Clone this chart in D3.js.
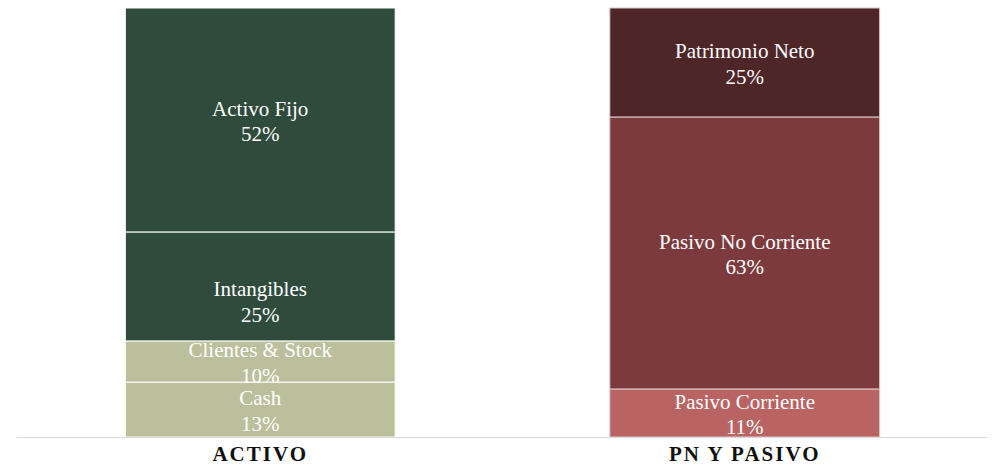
<!DOCTYPE html>
<html>
<head>
<meta charset="utf-8">
<script src="https://cdn.jsdelivr.net/npm/d3@7"></script>
<style>
  html, body { margin: 0; padding: 0; background: #fff; }
  svg { display: block; }
</style>
</head>
<body>
<svg id="chart" width="1007" height="465"></svg>
<script>
// ---- data ----
const categories = ["ACTIVO", "PN Y PASIVO"];
const activoLabels = ["Cash", "Clientes & Stock", "Intangibles", "Activo Fijo"];
const activoValues = [12.8, 9.6, 25.4, 52.2];
const pasivoLabels = ["Pasivo Corriente", "Pasivo No Corriente", "Patrimonio Neto"];
const pasivoValues = [11.2, 63.4, 25.4];
const activoColors = ["#BBBF9B", "#BBBF9B", "#2F4B3C", "#2F4B3C"];
const pasivoColors = ["#B96462", "#7D3A3C", "#4F2627"];

// ---- layout ----
const W = 1007, H = 465;
const margin = { left: 18, right: 20, top: 8, bottom: 28 };
const svg = d3.select("#chart");

const x = d3.scaleBand()
  .domain(categories)
  .range([margin.left, W - margin.right])
  .paddingInner(0.443)
  .paddingOuter(0.2215);

const y = d3.scaleLinear()
  .domain([0, 100])
  .range([H - margin.bottom, margin.top]);

const stacks = [
  { cat: categories[0], labels: activoLabels, values: activoValues, colors: activoColors, stroke: "#ffffff" },
  { cat: categories[1], labels: pasivoLabels, values: pasivoValues, colors: pasivoColors, stroke: "#dccbcb" }
];

// label placement nudges (pixels), as in the reference
const labelNudge = { "Intangibles": 14 };

const font = "'Liberation Serif', 'Times New Roman', serif";

stacks.forEach(s => {
  let acc = 0;
  const segs = s.values.map((v, i) => {
    const seg = { label: s.labels[i], value: v, y0: acc, y1: acc + v, color: s.colors[i] };
    acc += v;
    return seg;
  });
  const g = svg.append("g");
  g.selectAll("rect").data(segs).join("rect")
    .attr("x", x(s.cat))
    .attr("width", x.bandwidth())
    .attr("y", d => y(d.y1))
    .attr("height", d => y(d.y0) - y(d.y1))
    .attr("fill", d => d.color)
    .attr("stroke", s.stroke)
    .attr("stroke-width", 1);

  const lg = g.selectAll("text").data(segs).join("text")
    .attr("text-anchor", "middle")
    .attr("fill", "#ffffff")
    .style("font-family", font)
    .style("font-size", "21px")
    .attr("x", x(s.cat) + x.bandwidth() / 2)
    .attr("y", d => (y(d.y0) + y(d.y1)) / 2 + (labelNudge[d.label] || 0));
  lg.append("tspan")
    .attr("x", x(s.cat) + x.bandwidth() / 2)
    .attr("dy", "-0.2em")
    .text(d => d.label);
  lg.append("tspan")
    .attr("x", x(s.cat) + x.bandwidth() / 2)
    .attr("dy", "1.22em")
    .text(d => Math.round(d.value) + "%");
});

// x axis baseline
svg.append("line")
  .attr("x1", margin.left - 1).attr("x2", W - margin.right)
  .attr("y1", y(0) + 0.5).attr("y2", y(0) + 0.5)
  .attr("stroke", "#d9d9d9").attr("stroke-width", 1);

// category labels
svg.selectAll("text.cat").data(categories).join("text")
  .attr("class", "cat")
  .attr("x", d => x(d) + x.bandwidth() / 2)
  .attr("y", 461)
  .attr("text-anchor", "middle")
  .style("font-family", font)
  .style("font-size", "21px")
  .style("font-weight", "bold")
  .style("letter-spacing", "2px")
  .attr("fill", "#111")
  .text(d => d);
</script>
</body>
</html>
